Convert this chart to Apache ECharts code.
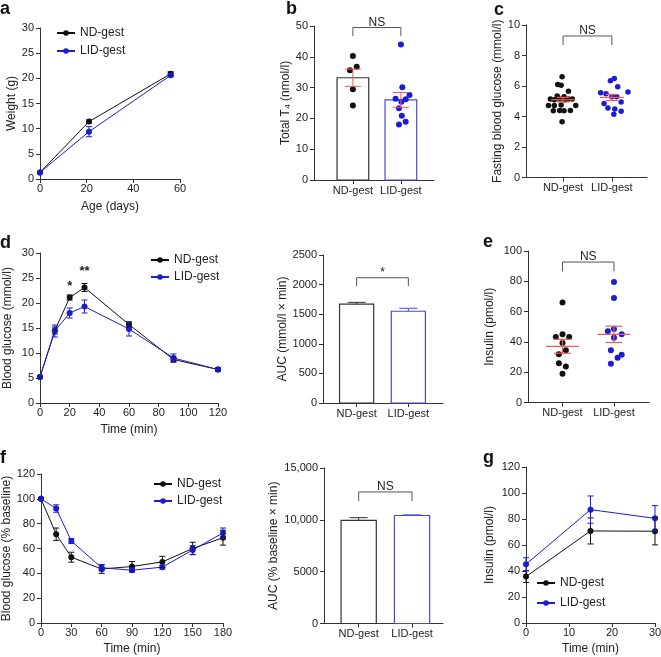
<!DOCTYPE html>
<html><head><meta charset="utf-8">
<script src="https://cdn.jsdelivr.net/npm/echarts@6/dist/echarts.min.js"></script>
<style>html,body{margin:0;padding:0;background:#fff}#c{width:661px;height:657px}</style>
</head><body><div id="c"></div>
<script>
// ---------- DATA ----------
const groups = ['ND-gest', 'LID-gest'];
// a: body weight
const aAge = [0, 21, 56];
const aND = [1.3, 11.4, 20.9];
const aNDerr = [0.2, 0.3, 0.4];
const aLID = [1.3, 9.4, 20.6];
const aLIDerr = [0.2, 1.0, 0.3];
// b: total T4
const bND = [40.3, 36.8, 35.6, 29.5, 24.2];
const bNDjit = [0, 0.08, -0.06, 0, 0];
const bLID = [44.0, 30.1, 27.6, 26.4, 26.2, 25.4, 23.3, 20.9, 18.9, 18.0];
const bLIDjit = [0, 0.03, 0.18, -0.11, 0.1, 0.01, -0.04, 0.02, 0.1, -0.04];
const bMean = [33.2, 26.0];
const bSem = [2.8, 2.4];
// c: fasting blood glucose
const cND = [6.6, 6.1, 6.05, 5.65, 5.35, 5.3, 5.15, 5.1, 5.15, 5.1, 5.15, 5.15, 4.72, 4.72, 4.75, 4.72, 4.38, 4.4, 4.38, 4.4, 3.65];
const cNDjit = [-0.02, -0.11, -0.04, 0.11, -0.12, 0.02, -0.26, -0.18, -0.07, 0.03, 0.11, 0.19, -0.3, -0.18, -0.04, 0.26, -0.2, -0.07, 0.02, 0.15, -0.02];
const cLID = [6.5, 6.35, 5.95, 5.55, 5.5, 5.6, 5.3, 5.3, 4.95, 4.85, 4.55, 4.5, 4.35, 4.15];
const cLIDjit = [0.05, -0.03, 0.12, -0.23, -0.12, 0.33, 0, 0.1, 0.19, -0.16, -0.08, 0.06, 0.19, 0.04];
const cMean = [5.1, 5.25];
const cSem = [0.15, 0.2];
// d: GTT
const dTime = [0, 10, 20, 30, 60, 90, 120];
const dND = [5.2, 14.5, 21.1, 23.1, 15.7, 8.7, 6.7];
const dNDerr = [0.2, 0.7, 0.5, 0.8, 0.5, 0.5, 0.3];
const dLID = [5.2, 14.4, 18.0, 19.3, 14.8, 9.0, 6.7];
const dLIDerr = [0.2, 1.2, 1.0, 1.3, 1.4, 0.8, 0.3];
const dStarX = [20, 30];
const dStarY = [23.4, 26.3];
const dStarText = ['*', '**'];
const dAUC = [1670, 1550];
const dAUCerr = [30, 50];
// e: insulin
const eND = [66, 43.3, 45, 43.3, 39.3, 34.5, 31.9, 25.9, 23.8, 18.9];
const eNDjit = [0, -0.13, 0, 0.13, 0, 0.065, -0.07, -0.07, 0.065, 0];
const eLID = [79.5, 69, 47, 48.5, 45, 42.8, 34.5, 31.5, 29.5, 25.5];
const eLIDjit = [0, 0, -0.12, 0, 0.15, 0, -0.06, 0.15, 0.07, -0.06];
const eMean = [37.1, 45.0];
const eSem = [4.6, 5.4];
// f: ITT
const fTime = [0, 15, 30, 60, 90, 120, 150, 180];
const fND = [100, 71.5, 53, 43.5, 45.5, 49.2, 60, 68.7];
const fNDerr = [0.5, 5, 4, 3.5, 4, 4.5, 5, 6];
const fLID = [100, 92.2, 66, 44.5, 42.5, 45, 58.8, 72.5];
const fLIDerr = [0.5, 3, 2, 2.5, 1.5, 1.5, 3.5, 4];
const fAUC = [9950, 10420];
const fAUCerr = [260, 60];
// g: insulin during GTT
const gTime = [0, 15, 30];
const gND = [35.7, 70.8, 70.6];
const gNDerr = [4.5, 10, 10.5];
const gLID = [45.2, 87.2, 80.5];
const gLIDerr = [5, 10.5, 9.8];
// significance brackets: [top, bottom]
const bBracket = [49.5, 46.8];
const cBracket = [9.28, 8.69];
const dBracket = [2116, 1976];
const eBracket = [92.7, 86.6];
const fBracket = [12690, 11800];

// ---------- STYLE ----------
const FONT = "'Liberation Sans', Arial, Helvetica, sans-serif";
const AX = '#333';
const C_ND = '#111111';
const C_LID = '#1c1cd2';
const C_LIDBAR = '#4848e0';
const C_RED = '#f05a5a';
const BW = 0.66;

function baseAxis() {
  return {
    axisLine: {show: true, onZero: false, lineStyle: {color: AX, width: 1}},
    axisTick: {show: true, length: 4, lineStyle: {color: AX, width: 1}},
    splitLine: {show: false},
    axisLabel: {color: '#222', fontSize: 11, fontFamily: FONT, margin: 6, formatter: v => String(v)},
    nameTextStyle: {color: '#222', fontSize: 12, fontFamily: FONT},
    nameLocation: 'middle'
  };
}
function yAx(gi, min, max, interval, name, gap, fmt) {
  const a = baseAxis();
  Object.assign(a, {type: 'value', gridIndex: gi, min, max, interval, name, nameGap: gap, nameRotate: 90});
  if (fmt) a.axisLabel.formatter = fmt;
  return a;
}
function xAx(gi, min, max, interval, name, gap) {
  const a = baseAxis();
  Object.assign(a, {type: 'value', gridIndex: gi, min, max, interval, name: name || '', nameGap: gap || 20});
  a.axisLabel.margin = 4;
  return a;
}
function catAx(gi, min, max) {
  const a = baseAxis();
  Object.assign(a, {type: 'value', gridIndex: gi, min, max});
  a.axisTick.customValues = [1, 2];
  a.axisLabel.customValues = [1, 2];
  a.axisLabel.margin = 5;
  a.axisLabel.formatter = v => groups[Math.round(v) - 1] || '';
  return a;
}

const series = [];
function lineS(gi, name, xs, ys, color) {
  series.push({type: 'line', name, xAxisIndex: gi, yAxisIndex: gi, data: xs.map((x, i) => [x, ys[i]]),
    symbol: 'circle', symbolSize: 6, lineStyle: {color, width: 1}, itemStyle: {color}, z: 3});
}
function errS(gi, xs, ys, errs, color, cap, upOnly) {
  series.push({type: 'custom', xAxisIndex: gi, yAxisIndex: gi, clip: false, z: 4, silent: true,
    data: xs.map((x, i) => [x, upOnly ? ys[i] : ys[i] - errs[i], ys[i] + errs[i]]),
    renderItem: (p, api) => {
      const x = api.value(0);
      const a = api.coord([x, api.value(1)]), b = api.coord([x, api.value(2)]);
      const st = {stroke: color, lineWidth: 1};
      const h = cap / 2;
      const ch = [{type: 'line', shape: {x1: a[0], y1: a[1], x2: b[0], y2: b[1]}, style: st},
                  {type: 'line', shape: {x1: b[0] - h, y1: b[1], x2: b[0] + h, y2: b[1]}, style: st}];
      if (!upOnly) ch.push({type: 'line', shape: {x1: a[0] - h, y1: a[1], x2: a[0] + h, y2: a[1]}, style: st});
      return {type: 'group', children: ch};
    }});
}
function meanS(gi, x, mean, err, color, meanW, cap) {
  series.push({type: 'custom', xAxisIndex: gi, yAxisIndex: gi, clip: false, z: 5, silent: true,
    data: [[x, mean, mean - err, mean + err]],
    renderItem: (p, api) => {
      const xv = api.value(0);
      const m = api.coord([xv, api.value(1)]), lo = api.coord([xv, api.value(2)]), hi = api.coord([xv, api.value(3)]);
      const st = {stroke: color, lineWidth: 1.2};
      return {type: 'group', children: [
        {type: 'line', shape: {x1: m[0] - meanW / 2, y1: m[1], x2: m[0] + meanW / 2, y2: m[1]}, style: st},
        {type: 'line', shape: {x1: lo[0], y1: lo[1], x2: hi[0], y2: hi[1]}, style: st},
        {type: 'line', shape: {x1: lo[0] - cap / 2, y1: lo[1], x2: lo[0] + cap / 2, y2: lo[1]}, style: st},
        {type: 'line', shape: {x1: hi[0] - cap / 2, y1: hi[1], x2: hi[0] + cap / 2, y2: hi[1]}, style: st}
      ]};
    }});
}
function barS(gi, x, val, color) {
  series.push({type: 'custom', xAxisIndex: gi, yAxisIndex: gi, z: 1, silent: true,
    data: [[x, val]],
    renderItem: (p, api) => {
      const xv = api.value(0);
      const tl = api.coord([xv - BW / 2, api.value(1)]), br = api.coord([xv + BW / 2, 0]);
      return {type: 'rect', shape: {x: tl[0], y: tl[1], width: br[0] - tl[0], height: br[1] - tl[1]},
        style: {fill: '#fff', stroke: color, lineWidth: 1.2}};
    }});
}
function dotS(gi, x, vals, jit, color, size) {
  series.push({type: 'scatter', xAxisIndex: gi, yAxisIndex: gi, z: 3, symbolSize: size,
    data: vals.map((v, i) => [x + jit[i], v]), itemStyle: {color, opacity: 1}});
}
function bracketS(gi, br, label) {
  series.push({type: 'custom', xAxisIndex: gi, yAxisIndex: gi, clip: false, z: 5, silent: true,
    data: [[1, 2, br[0], br[1]]],
    renderItem: (p, api) => {
      const p1 = api.coord([api.value(0), api.value(2)]), p2 = api.coord([api.value(1), api.value(2)]);
      const q1 = api.coord([api.value(0), api.value(3)]), q2 = api.coord([api.value(1), api.value(3)]);
      return {type: 'group', children: [
        {type: 'polyline', shape: {points: [q1, p1, p2, q2]}, style: {stroke: '#555', fill: 'none', lineWidth: 1}},
        {type: 'text', style: {text: label, x: (p1[0] + p2[0]) / 2, y: p1[1] + 1,
          align: 'center', verticalAlign: 'bottom', textAlign: 'center', textVerticalAlign: 'bottom',
          fill: '#222', font: '12px ' + FONT}}
      ]};
    }});
}
function textS(gi, xs, ys, texts) {
  series.push({type: 'custom', xAxisIndex: gi, yAxisIndex: gi, clip: false, z: 5, silent: true,
    data: xs.map((x, i) => [x, ys[i], i]),
    renderItem: (p, api) => {
      const c = api.coord([api.value(0), api.value(1)]);
      return {type: 'text', style: {text: texts[api.value(2)], x: c[0], y: c[1],
        align: 'center', verticalAlign: 'middle', textAlign: 'center', textVerticalAlign: 'middle',
        fill: '#222', font: 'bold 13px ' + FONT}};
    }});
}

// ---------- PANELS ----------
const grids = [
  {left: 40, top: 28, width: 140, height: 151},    // a
  {left: 314, top: 26, width: 120, height: 154},   // b
  {left: 526, top: 25, width: 121, height: 152.5}, // c
  {left: 40, top: 253, width: 178, height: 150},   // d left
  {left: 323, top: 255, width: 120, height: 148},  // d AUC
  {left: 528, top: 251, width: 121, height: 151.5},// e
  {left: 41, top: 474, width: 182, height: 149},   // f left
  {left: 324, top: 468, width: 119, height: 155.5},// f AUC
  {left: 526, top: 467, width: 129, height: 156}   // g
].map(g => Object.assign(g, {containLabel: false, outerBoundsMode: 'none'}));

const xAxes = [
  xAx(0, 0, 60, 20, 'Age (days)', 22),
  catAx(1, 0.19, 2.69),
  catAx(2, 0.24, 2.72),
  xAx(3, 0, 120, 20, 'Time (min)', 21),
  catAx(4, 0.35, 2.67),
  catAx(5, 0.33, 2.68),
  xAx(6, 0, 180, 30, 'Time (min)', 20),
  catAx(7, 0.35, 2.58),
  xAx(8, 0, 30, 10, 'Time (min)', 20)
];
const fmtK = v => v >= 10000 ? v.toLocaleString('en-US') : String(v);
const yAxes = [
  yAx(0, 0, 30, 5, 'Weight (g)', 22),
  yAx(1, 0, 50, 10, 'Total T\u2084 (nmol/l)', 19),
  yAx(2, 0, 10, 2, 'Fasting blood glucose (mmol/l)', 20),
  yAx(3, 0, 30, 5, 'Blood glucose (mmol/l)', 26),
  yAx(4, 0, 2500, 500, 'AUC (mmol/l \u00d7 min)', 34),
  yAx(5, 0, 100, 20, 'Insulin (pmol/l)', 32),
  yAx(6, 0, 120, 20, 'Blood glucose (% baseline)', 27),
  yAx(7, 0, 15000, 5000, 'AUC (% baseline \u00d7 min)', 44, fmtK),
  yAx(8, 0, 120, 20, 'Insulin (pmol/l)', 30)
];

// a
errS(0, aAge, aND, aNDerr, C_ND, 6);
errS(0, aAge, aLID, aLIDerr, C_LID, 6);
lineS(0, 'ND-gest', aAge, aND, C_ND);
lineS(0, 'LID-gest', aAge, aLID, C_LID);
// b
barS(1, 1, bMean[0], '#333');
barS(1, 2, bMean[1], C_LIDBAR);
dotS(1, 1, bND, bNDjit, C_ND, 6);
dotS(1, 2, bLID, bLIDjit, C_LID, 6);
errS(1, [1], [bMean[0]], [bSem[0]], C_RED, 16);
errS(1, [2], [bMean[1]], [bSem[1]], C_RED, 16);
bracketS(1, bBracket, 'NS');
// c
dotS(2, 1, cND, cNDjit, C_ND, 5.5);
dotS(2, 2, cLID, cLIDjit, C_LID, 5.5);
meanS(2, 1, cMean[0], cSem[0], C_RED, 24, 12);
meanS(2, 2, cMean[1], cSem[1], C_RED, 24, 12);
bracketS(2, cBracket, 'NS');
// d left
errS(3, dTime, dND, dNDerr, C_ND, 6);
errS(3, dTime, dLID, dLIDerr, C_LID, 6);
lineS(3, 'ND-gest', dTime, dND, C_ND);
lineS(3, 'LID-gest', dTime, dLID, C_LID);
textS(3, dStarX, dStarY, dStarText);
// d AUC
barS(4, 1, dAUC[0], '#333');
barS(4, 2, dAUC[1], C_LIDBAR);
errS(4, [1], [dAUC[0]], [dAUCerr[0]], '#333', 18, true);
errS(4, [2], [dAUC[1]], [dAUCerr[1]], C_LIDBAR, 18, true);
bracketS(4, dBracket, '*');
// e
dotS(5, 1, eND, eNDjit, C_ND, 6);
dotS(5, 2, eLID, eLIDjit, C_LID, 6);
meanS(5, 1, eMean[0], eSem[0], C_RED, 33, 17);
meanS(5, 2, eMean[1], eSem[1], C_RED, 33, 17);
bracketS(5, eBracket, 'NS');
// f left
errS(6, fTime, fND, fNDerr, C_ND, 6);
errS(6, fTime, fLID, fLIDerr, C_LID, 6);
lineS(6, 'ND-gest', fTime, fND, C_ND);
lineS(6, 'LID-gest', fTime, fLID, C_LID);
// f AUC
barS(7, 1, fAUC[0], '#333');
barS(7, 2, fAUC[1], C_LIDBAR);
errS(7, [1], [fAUC[0]], [fAUCerr[0]], '#333', 18, true);
errS(7, [2], [fAUC[1]], [fAUCerr[1]], C_LIDBAR, 18, true);
bracketS(7, fBracket, 'NS');
// g
errS(8, gTime, gND, gNDerr, C_ND, 6);
errS(8, gTime, gLID, gLIDerr, C_LID, 6);
lineS(8, 'ND-gest', gTime, gND, C_ND);
lineS(8, 'LID-gest', gTime, gLID, C_LID);

function legendAt(left, top, gap) {
  return {data: groups, left, top, orient: 'vertical', itemWidth: 18, itemHeight: 7, itemGap: gap,
    selectedMode: false, padding: 0, textStyle: {fontSize: 12, color: '#222', fontFamily: FONT}};
}
const letters = [['a', 0, 14], ['b', 286, 14], ['c', 494, 15], ['d', 0, 248], ['e', 483, 247], ['f', 0, 463], ['g', 483, 463]];

const chart = echarts.init(document.getElementById('c'), null, {renderer: 'canvas'});
chart.setOption({
  animation: false,
  backgroundColor: '#fff',
  grid: grids,
  xAxis: xAxes,
  yAxis: yAxes,
  legend: [legendAt(56, 27, 6), legendAt(150, 254, 5), legendAt(153, 478, 5), legendAt(536, 577, 8)],
  series,
  graphic: letters.map(l => ({type: 'text', left: l[1], top: l[2] - 14,
    style: {text: l[0], font: 'bold 18px ' + FONT, fill: '#111'}}))
});
</script></body></html>
